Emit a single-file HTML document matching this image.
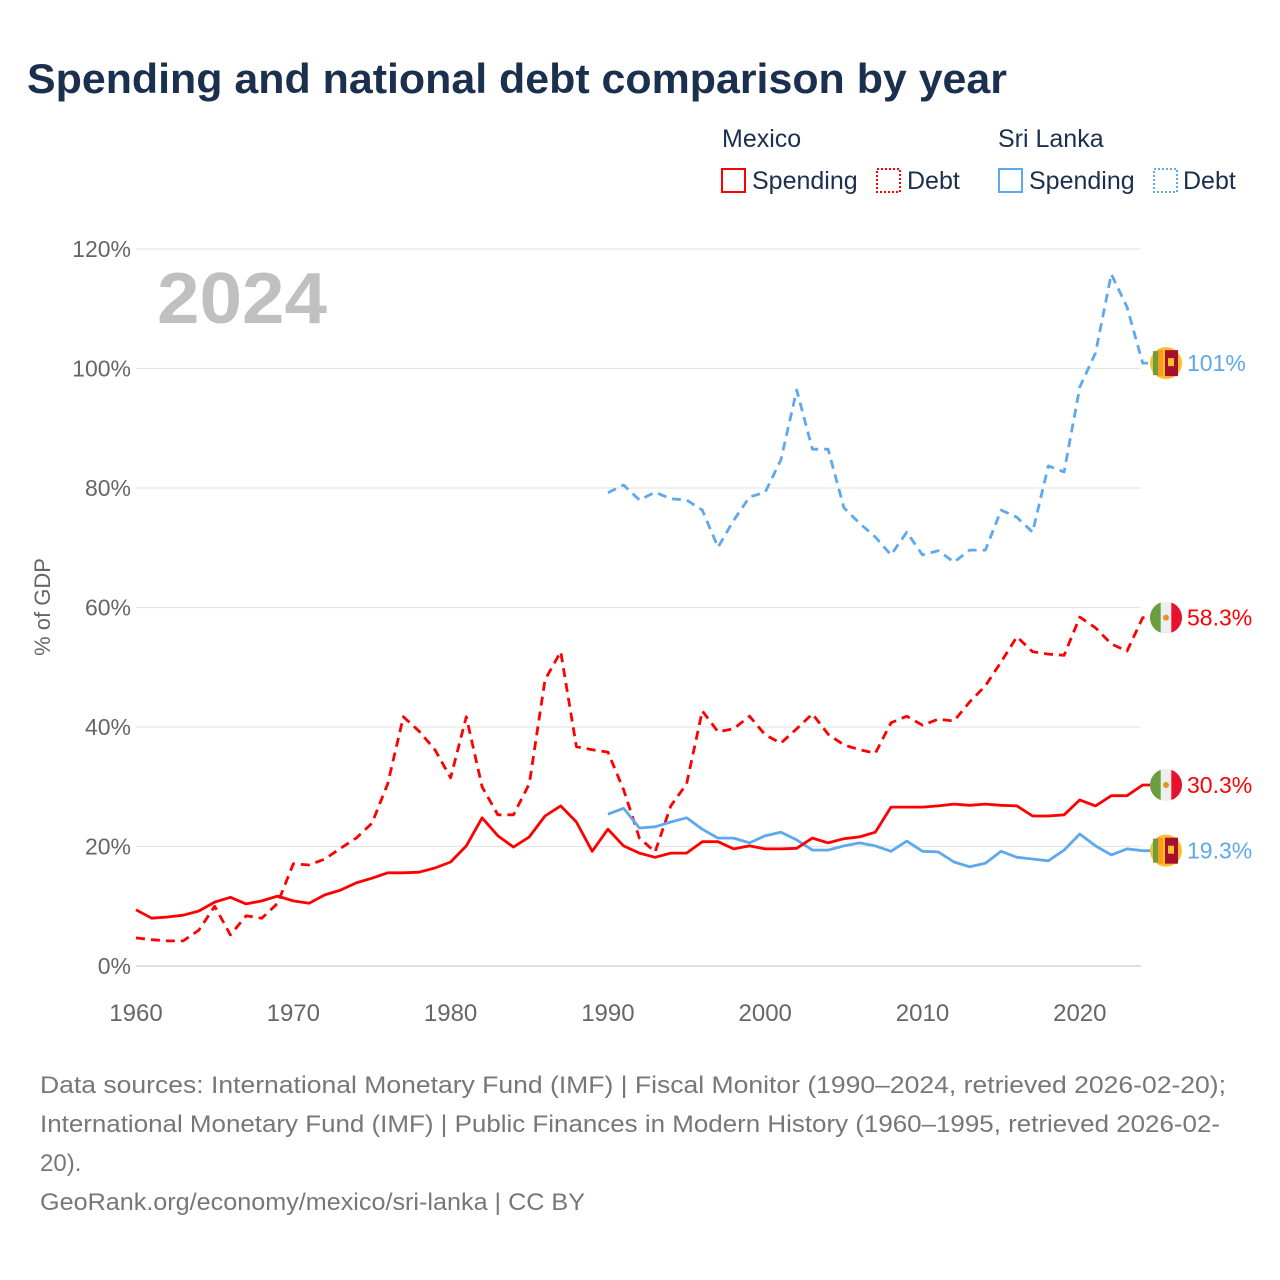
<!DOCTYPE html>
<html><head><meta charset="utf-8"><style>
body{margin:0;background:#fff;}
svg{display:block;font-family:"Liberation Sans",sans-serif;}
</style></head><body>
<svg id="chart" width="1280" height="1280" viewBox="0 0 1280 1280">
<text x="27" y="93" font-size="42" font-weight="bold" fill="#1b2f4e" textLength="980" lengthAdjust="spacingAndGlyphs">Spending and national debt comparison by year</text>
<g font-size="25" fill="#1b2f4e">
<text x="722" y="147">Mexico</text>
<text x="998" y="147">Sri Lanka</text>
<g><rect x="722" y="169" width="23" height="23" fill="none" stroke="#ff0000" stroke-width="2"/><text x="752" y="189">Spending</text></g>
<g><rect x="877" y="169" width="23" height="23" fill="none" stroke="#ff0000" stroke-width="2" stroke-dasharray="2,2"/><text x="907" y="189">Debt</text></g>
<g><rect x="999" y="169" width="23" height="23" fill="none" stroke="#5ea8ee" stroke-width="2"/><text x="1029" y="189">Spending</text></g>
<g><rect x="1154" y="169" width="23" height="23" fill="none" stroke="#5ea8ee" stroke-width="2" stroke-dasharray="2,2"/><text x="1183" y="189">Debt</text></g>
</g>
<text x="157" y="323" font-size="72" font-weight="bold" fill="#c0c0c0" textLength="170" lengthAdjust="spacingAndGlyphs">2024</text>
<text transform="translate(50,607) rotate(-90)" text-anchor="middle" font-size="22" fill="#666">% of GDP</text>
<g id="grid"></g><g id="series"></g><g id="ends"></g>
<g font-size="24" fill="#777">
<text x="40" y="1093" textLength="1186" lengthAdjust="spacingAndGlyphs">Data sources: International Monetary Fund (IMF) | Fiscal Monitor (1990–2024, retrieved 2026-02-20);</text>
<text x="40" y="1132" textLength="1180" lengthAdjust="spacingAndGlyphs">International Monetary Fund (IMF) | Public Finances in Modern History (1960–1995, retrieved 2026-02-</text>
<text x="40" y="1171">20).</text>
<text x="40" y="1210" textLength="545" lengthAdjust="spacingAndGlyphs">GeoRank.org/economy/mexico/sri-lanka | CC BY</text>
</g>
</svg>
<script>
const yTicks=[0,20,40,60,80,100,120];
const xTicks=[1960,1970,1980,1990,2000,2010,2020];
const mxYears0=1960;
const mxSpending=[9.4,8.0,8.2,8.5,9.2,10.7,11.5,10.4,10.9,11.7,10.9,10.5,11.9,12.7,13.9,14.7,15.6,15.6,15.7,16.4,17.4,20.1,24.8,21.8,19.9,21.6,25.1,26.8,24.1,19.2,22.9,20.1,18.9,18.2,18.9,18.9,20.8,20.8,19.6,20.1,19.6,19.6,19.7,21.4,20.6,21.3,21.6,22.4,26.6,26.6,26.6,26.8,27.1,26.9,27.1,26.9,26.8,25.1,25.1,25.3,27.8,26.8,28.5,28.5,30.3];
const mxDebt=[4.7,4.4,4.2,4.2,6.0,10.0,5.2,8.4,8.0,10.5,17.1,16.9,17.9,19.7,21.4,23.9,30.5,41.7,39.3,36.2,31.5,41.7,30.0,25.3,25.3,30.5,47.9,52.6,36.7,36.2,35.8,29.5,21.4,19.1,26.8,30.5,42.7,39.2,39.7,41.8,38.7,37.3,39.7,42.2,38.8,37.0,36.2,35.6,40.7,41.8,40.3,41.3,41.0,44.2,46.9,50.9,55.1,52.6,52.2,52.0,58.4,56.6,53.9,52.7,58.3];
const lkYears0=1990;
const lkSpending=[25.4,26.4,23.1,23.3,24.1,24.8,22.9,21.4,21.4,20.6,21.8,22.4,21.1,19.4,19.4,20.1,20.6,20.1,19.2,20.9,19.2,19.1,17.4,16.6,17.2,19.2,18.2,17.9,17.6,19.4,22.1,20.1,18.6,19.6,19.3];
const lkDebt=[79.2,80.5,78.0,79.3,78.2,78.0,76.3,70.1,74.6,78.5,79.3,84.7,96.4,86.5,86.5,76.7,74.1,71.8,68.8,72.6,68.8,69.5,67.6,69.6,69.6,76.3,75.1,72.6,83.7,82.7,96.9,102.6,115.8,110.3,100.9];
const endLabels=["101%","58.3%","30.3%","19.3%"];

const X=yr=>136+(yr-1960)*15.73;
const Y=v=>966-v*5.975;
const NS="http://www.w3.org/2000/svg";
function mk(tag,attrs,parent){const e=document.createElementNS(NS,tag);for(const k in attrs)e.setAttribute(k,attrs[k]);parent.appendChild(e);return e;}
const grid=document.getElementById('grid');
yTicks.forEach(t=>{
  const l=mk('line',{x1:136,x2:1141,y1:Y(t),y2:Y(t),stroke:t===0?'#ccc':'#e6e6e6','stroke-width':1.2},grid);
  
  
  const tx=mk('text',{x:131,y:Y(t)+8,'text-anchor':'end','font-size':23,fill:'#666'},grid);
  tx.textContent=t+'%';
  
  
});
xTicks.forEach(t=>{
  const tx=mk('text',{x:X(t),y:1021,'text-anchor':'middle','font-size':24,fill:'#666'},grid);
  tx.textContent=t;
  
  
});
const ser=document.getElementById('series');
function line(vals,y0,color,dash,name){
  const pts=vals.map((v,i)=>X(y0+i).toFixed(1)+','+Y(v).toFixed(1));
  const last=vals[vals.length-1];
  pts.push('1152,'+Y(last).toFixed(1));
  const p=mk('polyline',{points:pts.join(' '),fill:'none',stroke:color,'stroke-width':2.8,'stroke-linejoin':'round'},ser);
  if(dash)p.setAttribute('stroke-dasharray','9,6');
  
  
}
line(lkDebt,lkYears0,'#5ea8ee',true,'line-sri-lanka-debt');
line(mxDebt,mxYears0,'#ff0000',true,'line-mexico-debt');
line(lkSpending,lkYears0,'#5ea8ee',false,'line-sri-lanka-spending');
line(mxSpending,mxYears0,'#ff0000',false,'line-mexico-spending');
const ends=document.getElementById('ends');
const endVals=[lkDebt[lkDebt.length-1],mxDebt[mxDebt.length-1],mxSpending[mxSpending.length-1],lkSpending[lkSpending.length-1]];
const endCountry=['lk','mx','mx','lk'];
endVals.forEach((v,i)=>{
  const cy=Y(v),cx=1166;
  const g=mk('g',{},ends);
  
  
  if(endCountry[i]==='mx'){
    mk('circle',{cx:cx,cy:cy,r:16,fill:'#eee'},g);
    mk('path',{d:`M${cx-5.3},${cy-15.1} A16,16 0 0 0 ${cx-5.3},${cy+15.1} Z`,fill:'#6a9e3f'},g);
    mk('path',{d:`M${cx+5.3},${cy-15.1} A16,16 0 0 1 ${cx+5.3},${cy+15.1} Z`,fill:'#e8112d'},g);
    mk('circle',{cx:cx,cy:cy,r:3,fill:'#e8922a'},g);
  }else{
    mk('circle',{cx:cx,cy:cy,r:16,fill:'#ffbe29'},g);
    mk('rect',{x:cx-13,y:cy-12,width:5,height:24,fill:'#6a9e3f'},g);
    mk('rect',{x:cx-8,y:cy-13,width:5,height:26,fill:'#ff9b1a'},g);
    mk('rect',{x:cx-1,y:cy-13,width:13,height:26,fill:'#a50e2d'},g);
    mk('rect',{x:cx+2,y:cy-5,width:6,height:8,fill:'#ffbe29'},g);
  }
  const t=mk('text',{x:1187,y:cy+8,'font-size':23,fill:endCountry[i]==='mx'?'#ff0000':'#5ea8ee'},g);
  t.textContent=endLabels[i];
});
</script>
</body></html>
